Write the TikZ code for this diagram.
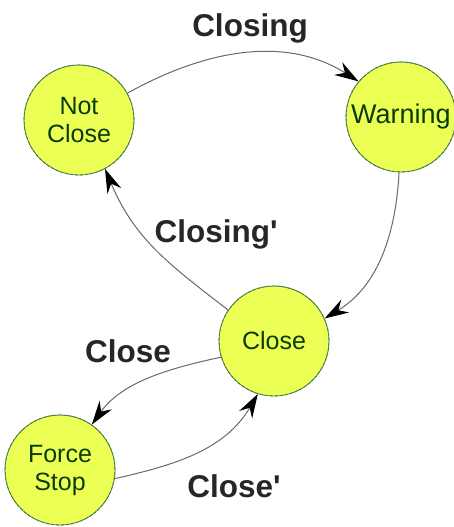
\documentclass[tikz,border=0pt]{standalone}
\usepackage{fontspec}
\setmainfont{Liberation Sans}
\newfontfamily\lblfont{Liberation Sans}[Ligatures=TeXOff]
\usetikzlibrary{arrows.meta}
\definecolor{stfill}{RGB}{236,255,85}
\definecolor{sttext}{RGB}{10,60,10}
\definecolor{stgreen}{RGB}{40,150,30}
\definecolor{edgegray}{RGB}{105,105,105}
\tikzset{
  state/.style={circle, minimum size=110pt, inner sep=0pt, fill=stfill,
    draw=edgegray, line width=0.8pt, text=sttext, align=center,
    font=\fontsize{25}{28}\selectfont,
    postaction={draw=stgreen, dash pattern=on 3pt off 2pt, line width=0.8pt}},
  trans/.style={draw=edgegray, line width=1pt,
    -{Stealth[length=24pt, width=15pt, inset=8pt, color=black, fill=black]}},
  lbl/.style={anchor=base, font=\lblfont\bfseries\fontsize{31.5}{34}\selectfont, text=black!85}
}
\begin{document}
\begin{tikzpicture}[x=1pt, y=-1pt]
\useasboundingbox (0,0) rectangle (453,527);
\node[state] (nc) at (79,120) {Not\\Close};
\node[state, font=\fontsize{27}{30}\selectfont] (w)  at (401,117) {Warning};
\node[state] (c)  at (274,341) {Close};
\node[state] (fs) at (60,470) {Force\\Stop};

\draw[trans] (nc.29) .. controls (205,50) and (285,35) .. (w.140);
\draw[trans] (w.268) .. controls (396,230) and (380,285) .. (c.24);
\draw[trans] (c.146) .. controls (170,265) and (135,240) .. (nc.-62);
\draw[trans] (c.197) .. controls (160,370) and (120,385) .. (fs.55);
\draw[trans] (fs.-9) .. controls (175,465) and (225,450) .. (c.-107);

\node[lbl] (l1) at (250,37) {Closing};
\node[lbl] (l2) at (216,242) {Closing'};
\node[lbl] (l3) at (128,362) {Close};
\node[lbl] (l4) at (234,497) {Close'};
\end{tikzpicture}
\end{document}
